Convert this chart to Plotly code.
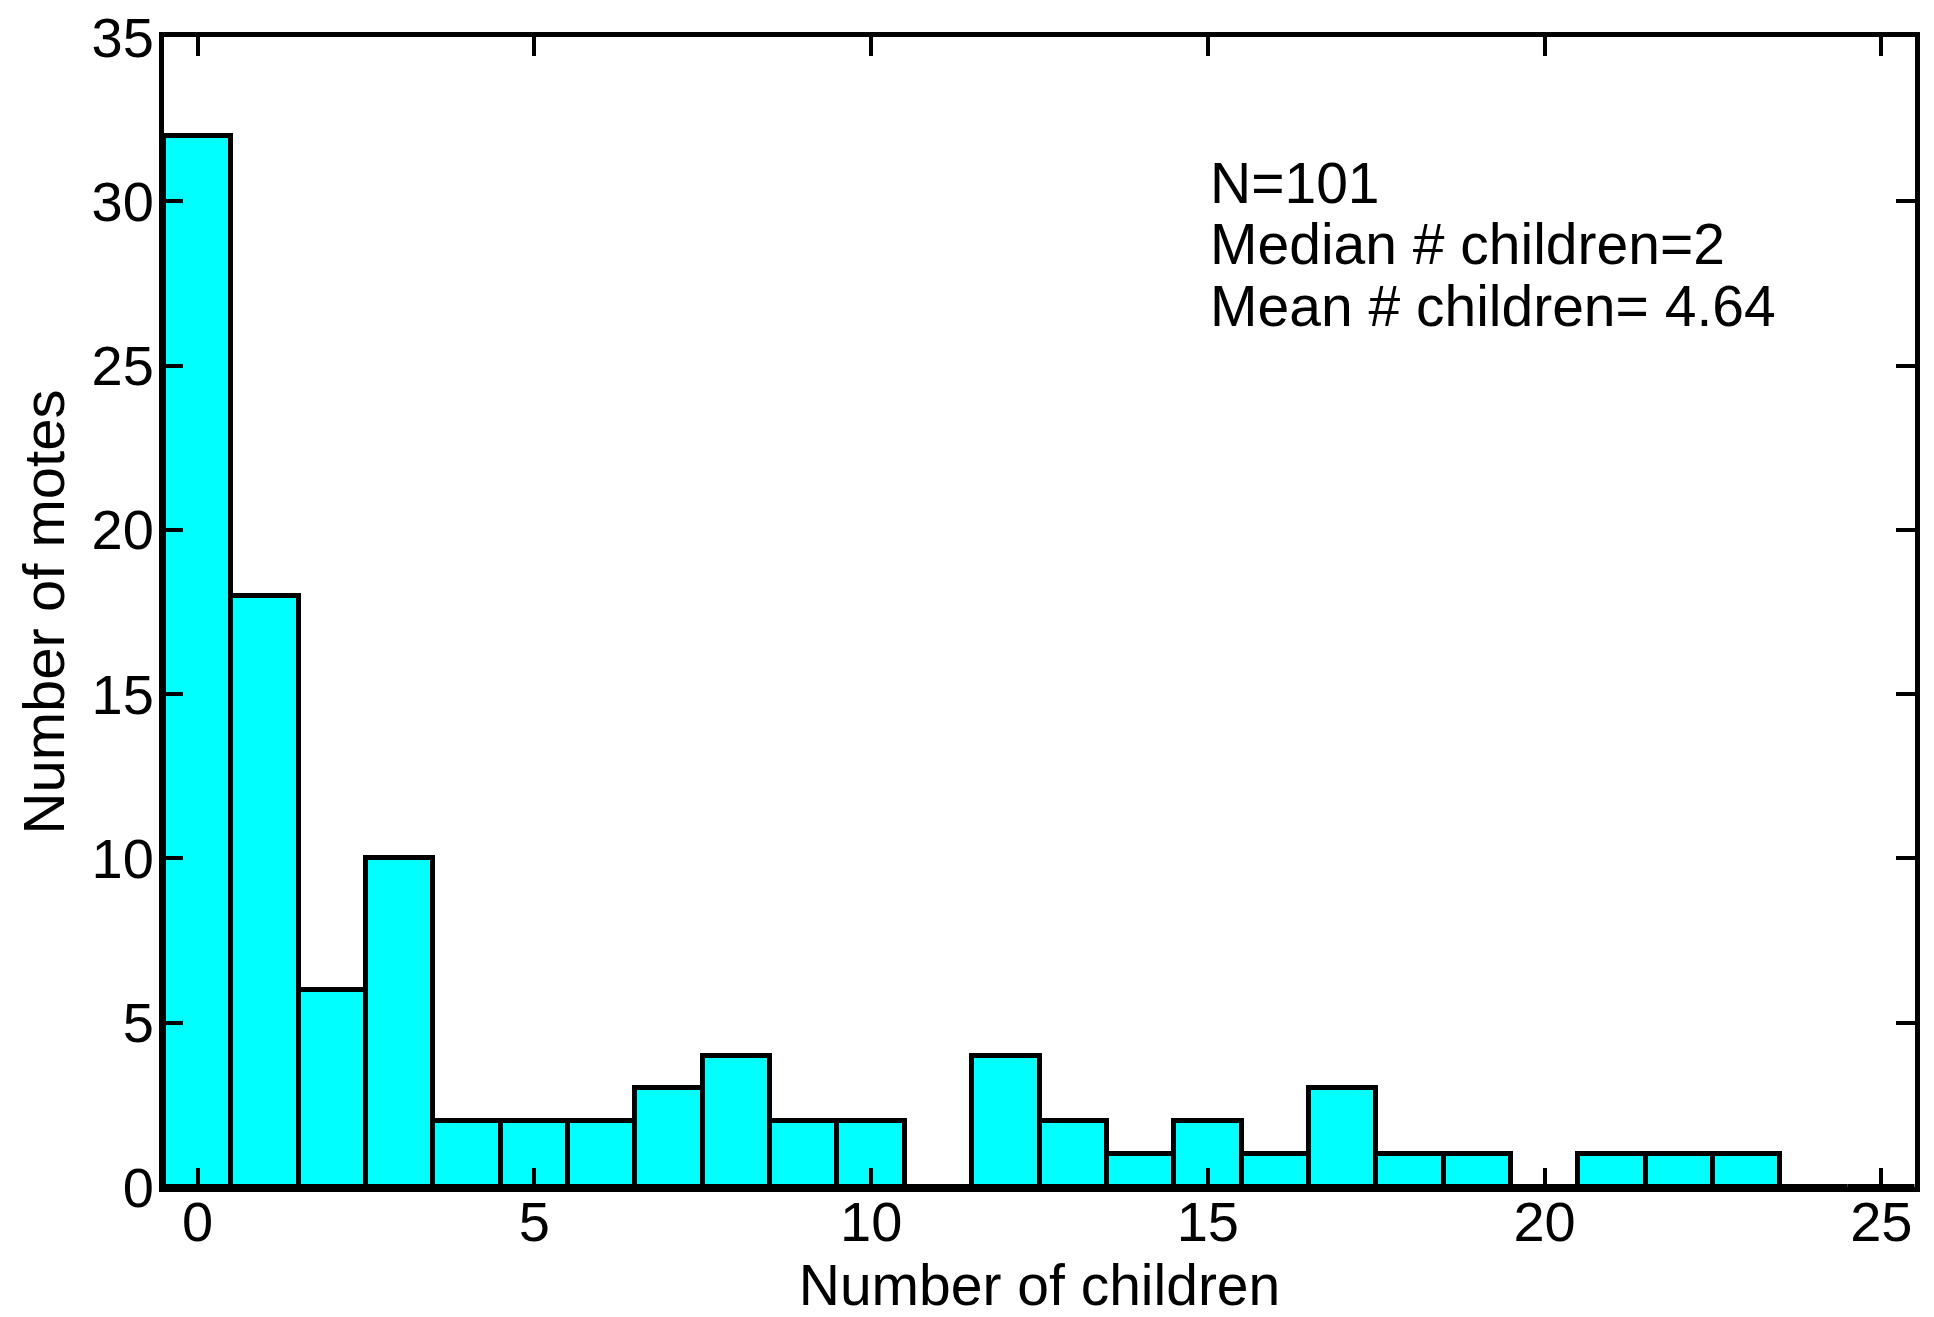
import plotly.graph_objects as go

# Data
children = list(range(0, 26))
motes = [32, 18, 6, 10, 2, 2, 2, 3, 4, 2, 2, 0, 4, 2, 1, 2, 1, 3, 1, 1, 0, 1, 1, 1, 0, 0]
x_ticks = [0, 5, 10, 15, 20, 25]
y_ticks = [0, 5, 10, 15, 20, 25, 30, 35]
stats_lines = ["N=101", "Median # children=2", "Mean # children= 4.64"]

FONT = "Liberation Sans, Arial, Helvetica, sans-serif"

fig = go.Figure()
fig.add_trace(go.Bar(
    x=children, y=motes, width=1,
    marker=dict(color="#00FFFF", line=dict(color="black", width=5)),
    showlegend=False,
))

ann_y = [30.56, 28.70, 26.81]
for txt, yy in zip(stats_lines, ann_y):
    fig.add_annotation(x=15, y=yy, xref="x", yref="y", text=txt, showarrow=False,
                       xanchor="left", yanchor="middle",
                       font=dict(family=FONT, size=57, color="black"))

axis_common = dict(
    showline=True, linewidth=5, linecolor="black", mirror="ticks",
    ticks="inside", ticklen=19, tickwidth=4, tickcolor="black",
    showgrid=False, zeroline=False, automargin=False,
    tickfont=dict(family=FONT, size=56, color="black"),
)

fig.update_layout(
    width=1934, height=1317,
    margin=dict(l=164, r=19, t=37, b=130),
    paper_bgcolor="white", plot_bgcolor="white",
    bargap=0,
    xaxis=dict(range=[-0.5, 25.5], tickvals=x_ticks, ticklabelstandoff=-18,
               title=dict(text="Number of children", standoff=28,
                          font=dict(family=FONT, size=57, color="black")),
               **axis_common),
    yaxis=dict(range=[0, 35], tickvals=y_ticks, ticklabelstandoff=-6,
               title=dict(text="Number of motes", standoff=10,
                          font=dict(family=FONT, size=58, color="black")),
               **axis_common),
)

fig.write_html("out.html")
